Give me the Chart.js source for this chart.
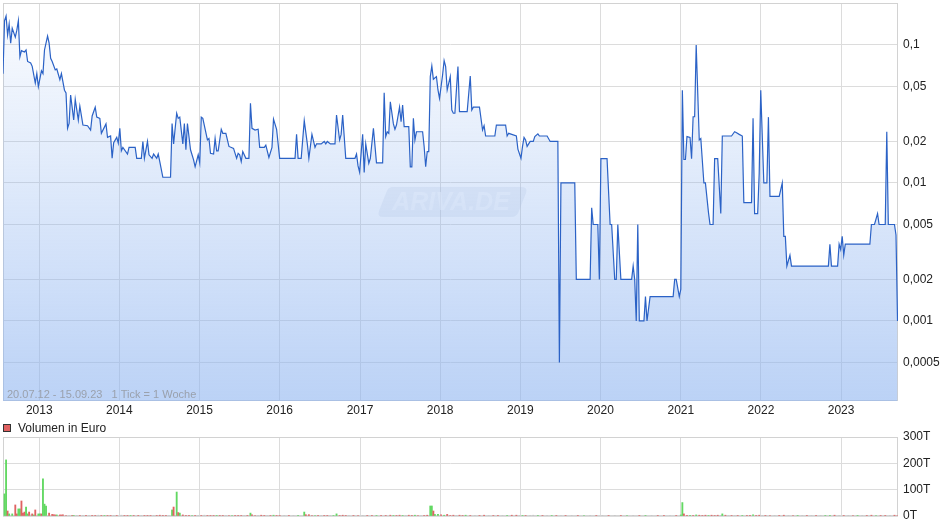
<!DOCTYPE html>
<html>
<head>
<meta charset="utf-8">
<script src="https://cdn.jsdelivr.net/npm/chart.js@4/dist/chart.umd.min.js"></script>
<style>
  html, body { margin: 0; padding: 0; background: #fff; }
  #wrap { position: relative; width: 940px; height: 526px; }
  #priceBox { position: absolute; left: 0; top: 0; width: 940px; height: 420px; }
  #volBox { position: absolute; left: 0; top: 420px; width: 940px; height: 106px; }
</style>
</head>
<body>
<div id="wrap">
  <div id="priceBox"><canvas id="chart-price"></canvas></div>
  <div id="volBox"><canvas id="chart-volume"></canvas></div>
</div>
<script>
// Weekly chart 20.07.12 - 15.09.23, x = week number since start
const startDate = '2012-07-20';
const lastWeek = 582.3;
const tickYears = [2013, 2014, 2015, 2016, 2017, 2018, 2019, 2020, 2021, 2022, 2023];
const priceTicks = [0.0005, 0.001, 0.002, 0.005, 0.01, 0.02, 0.05, 0.1];
const volumeTicks = [0, 100, 200, 300];

// price line (week, EUR)
const weeks = [
  0, 1, 2, 3, 4, 5, 6, 8, 9, 10, 11, 12, 14, 15, 16, 18, 19, 21, 22, 23,
  25, 26, 27, 29, 30, 31, 32, 34, 35, 37, 38, 40, 41, 42, 43, 44, 46, 47, 49, 50,
  52, 55, 57, 58, 60, 61, 63, 64, 67, 68, 70, 71, 72, 74, 75, 76, 77, 78, 81, 82,
  86, 87, 90, 91, 92, 94, 95, 97, 98, 100, 101, 102, 104, 109, 110, 111, 113, 114, 115, 117,
  118, 119, 120, 122, 124, 125, 127, 128, 129, 130, 133, 134, 135, 137, 138, 139, 140, 142, 143, 145,
  147, 150, 151, 152, 153, 154, 155, 156, 158, 160, 161, 162, 164, 166, 167, 170, 171, 173, 175, 176,
  178, 180, 190, 191, 192, 194, 196, 198, 199, 201, 203, 204, 207, 209, 210, 211, 213, 216, 217, 219,
  220, 221, 223, 229, 230, 231, 232, 234, 235, 236, 238, 239, 241, 243, 247, 248, 249, 250, 251, 252,
  254, 255, 256, 258, 259, 260, 261, 264, 265, 266, 267, 268, 269, 273, 274, 275, 276, 277, 278, 279,
  280, 282, 283, 284, 286, 287, 288, 289, 291, 292, 293, 294, 296, 297, 302, 304, 305, 306, 310, 312,
  313, 314, 320, 321, 327, 328, 329, 334, 335, 337, 338, 339, 340, 341, 343, 345, 346, 348, 349, 354,
  356, 361, 362, 363, 372, 373, 382, 383, 384, 387, 388, 389, 393, 395, 396, 398, 399, 400, 402, 409,
  410, 411, 412, 413, 414, 417, 418, 419, 421, 436, 437, 438, 440, 441, 442, 443, 444, 445, 447, 448,
  449, 450, 451, 453, 454, 456, 457, 459, 460, 462, 463, 465, 467, 468, 474, 476, 477, 479, 481, 482,
  487, 488, 489, 491, 492, 493, 495, 497, 498, 499, 505, 507, 508, 509, 510, 512, 513, 537, 538, 539,
  543, 544, 545, 546, 547, 548, 564, 565, 567, 569, 570, 574, 575, 576, 580, 581, 582
];
const prices = [
  0.062, 0.15, 0.162, 0.118, 0.142, 0.103, 0.132, 0.114, 0.128, 0.15, 0.082, 0.091, 0.089, 0.092, 0.076, 0.074, 0.07, 0.053, 0.062, 0.05,
  0.065, 0.062, 0.092, 0.116, 0.103, 0.08, 0.076, 0.066, 0.067, 0.056, 0.062, 0.047, 0.045, 0.0249, 0.027, 0.0434, 0.0286, 0.0404, 0.0286, 0.036,
  0.0263, 0.026, 0.0242, 0.0306, 0.0354, 0.03, 0.0294, 0.0229, 0.0268, 0.0214, 0.0219, 0.0151, 0.0196, 0.0214, 0.0194, 0.0249, 0.0171, 0.0181, 0.0162, 0.0181,
  0.0181, 0.0151, 0.0151, 0.02, 0.0151, 0.02, 0.016, 0.0151, 0.0162, 0.0151, 0.0162, 0.0143, 0.011, 0.011, 0.027, 0.0192, 0.032, 0.0294, 0.03, 0.0192,
  0.027, 0.0174, 0.027, 0.0174, 0.0147, 0.0131, 0.016, 0.014, 0.03, 0.0294, 0.0205, 0.021, 0.0164, 0.0162, 0.021, 0.0171, 0.0171, 0.0245, 0.0229, 0.0229,
  0.0184, 0.0178, 0.0164, 0.0151, 0.0164, 0.016, 0.0143, 0.0169, 0.0151, 0.0151, 0.0378, 0.0249, 0.0242, 0.0245, 0.0181, 0.0181, 0.0188, 0.0153, 0.0181, 0.029,
  0.0245, 0.0151, 0.0151, 0.0225, 0.0151, 0.0151, 0.0283, 0.0192, 0.0151, 0.0225, 0.0181, 0.0192, 0.0192, 0.02, 0.0192, 0.02, 0.0192, 0.0192, 0.0311, 0.0205,
  0.0225, 0.0311, 0.0151, 0.0151, 0.0162, 0.0133, 0.012, 0.0225, 0.0119, 0.0192, 0.0139, 0.0151, 0.0249, 0.014, 0.014, 0.045, 0.0217, 0.0235, 0.0229, 0.0388,
  0.0268, 0.0245, 0.0263, 0.0354, 0.0278, 0.0367, 0.0256, 0.0256, 0.0131, 0.0131, 0.0294, 0.0205, 0.0235, 0.0235, 0.0184, 0.0131, 0.0169, 0.0169, 0.059, 0.0705,
  0.0564, 0.059, 0.0472, 0.041, 0.0606, 0.077, 0.0697, 0.0472, 0.059, 0.0338, 0.032, 0.032, 0.0697, 0.0329, 0.0329, 0.0596, 0.0338, 0.0354, 0.0354, 0.0242,
  0.026, 0.0219, 0.0219, 0.0263, 0.0263, 0.0219, 0.0229, 0.0219, 0.0176, 0.0151, 0.0184, 0.0214, 0.0205, 0.0184, 0.02, 0.02, 0.0217, 0.0227, 0.0219, 0.0219,
  0.02, 0.02, 0.0005, 0.01, 0.01, 0.002, 0.002, 0.0066, 0.005, 0.005, 0.002, 0.015, 0.015, 0.005, 0.005, 0.002, 0.002, 0.005, 0.002, 0.002,
  0.0025, 0.002, 0.001, 0.005, 0.001, 0.001, 0.0015, 0.001, 0.0015, 0.0015, 0.002, 0.002, 0.0015, 0.0017, 0.047, 0.0148, 0.0148, 0.0217, 0.0214, 0.015,
  0.0302, 0.0302, 0.1, 0.0205, 0.021, 0.01, 0.01, 0.0061, 0.005, 0.005, 0.015, 0.015, 0.006, 0.0219, 0.0219, 0.0235, 0.0232, 0.0225, 0.0219, 0.0072,
  0.0072, 0.0294, 0.006, 0.006, 0.0118, 0.047, 0.01, 0.01, 0.03, 0.008, 0.008, 0.01, 0.0041, 0.0041, 0.0025, 0.003, 0.0025, 0.0025, 0.0036, 0.0025,
  0.0025, 0.0036, 0.0033, 0.0041, 0.003, 0.0036, 0.0036, 0.005, 0.005, 0.006, 0.005, 0.005, 0.0235, 0.005, 0.005, 0.0042, 0.001
];

// volume bars (week, thousand EUR, u = up / d = down / n = unchanged)
const volWeeks = [
  1, 2, 3, 4, 6, 8, 9, 10, 11, 12, 13, 14, 15, 16, 17, 18, 19, 20, 21, 23,
  24, 25, 26, 27, 28, 30, 32, 33, 34, 35, 37, 38, 39, 41, 43, 45, 46, 48, 50, 52,
  54, 56, 58, 60, 62, 64, 66, 68, 70, 72, 74, 77, 79, 81, 83, 85, 88, 90, 92, 94,
  96, 98, 100, 102, 104, 106, 108, 110, 111, 113, 114, 115, 117, 119, 121, 123, 125, 127, 129, 131,
  133, 135, 137, 139, 141, 143, 145, 147, 149, 151, 153, 155, 157, 159, 161, 162, 164, 166, 168, 170,
  172, 174, 176, 178, 180, 183, 186, 189, 192, 196, 197, 199, 201, 203, 205, 207, 209, 211, 213, 215,
  217, 219, 221, 223, 225, 228, 231, 234, 237, 240, 243, 246, 249, 252, 254, 256, 258, 260, 262, 264,
  266, 268, 270, 272, 274, 276, 278, 279, 280, 281, 283, 285, 287, 289, 291, 293, 295, 297, 299, 301,
  304, 307, 310, 313, 316, 319, 322, 325, 328, 331, 334, 336, 338, 340, 343, 345, 348, 351, 354, 357,
  360, 363, 366, 370, 374, 378, 382, 386, 390, 394, 398, 402, 406, 410, 414, 418, 422, 426, 430, 434,
  438, 441, 442, 443, 445, 447, 449, 451, 453, 455, 457, 459, 461, 463, 465, 467, 468, 470, 472, 474,
  476, 478, 481, 484, 486, 488, 490, 492, 494, 496, 499, 502, 505, 508, 511, 514, 517, 520, 523, 526,
  529, 532, 535, 538, 541, 544, 547, 550, 553, 556, 559, 562, 565, 568, 571, 574, 577, 580, 582
];
const volValues = [
  84, 213, 19, 8, 8, 42, 8, 27, 27, 57, 11, 15, 34, 8, 15, 4, 8, 4, 23, 8,
  8, 8, 141, 45, 38, 11, 6, 5, 4, 4, 4, 4, 4, 2, 2, 2, 2, 2, 2, 2,
  3, 2, 2, 2, 3, 2, 2, 2, 2, 2, 2, 3, 2, 2, 2, 2, 2, 2, 2, 2,
  2, 2, 2, 3, 2, 2, 2, 23, 34, 91, 13, 11, 4, 2, 3, 2, 2, 2, 2, 3,
  2, 2, 2, 2, 2, 2, 2, 2, 2, 2, 2, 2, 2, 2, 11, 4, 2, 2, 3, 2,
  2, 2, 3, 2, 2, 2, 2, 2, 2, 15, 5, 5, 2, 2, 2, 2, 2, 2, 2, 2,
  8, 2, 3, 2, 2, 2, 2, 2, 2, 2, 2, 2, 2, 3, 2, 2, 3, 2, 2, 3,
  2, 3, 2, 2, 2, 3, 38, 38, 19, 6, 6, 4, 3, 6, 2, 3, 2, 3, 2, 3,
  2, 2, 2, 3, 2, 2, 2, 2, 2, 3, 3, 2, 2, 2, 2, 3, 2, 2, 2, 2,
  2, 2, 2, 2, 2, 2, 2, 2, 2, 2, 2, 2, 2, 2, 2, 2, 2, 2, 2, 2,
  2, 4, 51, 8, 3, 3, 2, 4, 3, 2, 3, 2, 3, 2, 3, 2, 8, 3, 2, 2,
  2, 2, 2, 2, 3, 4, 2, 3, 2, 2, 2, 2, 2, 3, 2, 2, 2, 2, 2, 2,
  2, 2, 2, 2, 3, 2, 2, 2, 2, 2, 2, 2, 3, 2, 2, 2, 2, 3, 2
];
const volDir = [
  'u', 'u', 'd', 'u', 'u', 'd', 'd', 'u', 'u', 'd', 'd', 'd', 'u', 'u', 'd', 'n', 'd', 'u', 'd', 'u',
  'u', 'd', 'u', 'u', 'u', 'd', 'd', 'd', 'd', 'u', 'd', 'd', 'd', 'd', 'n', 'd', 'u', 'n', 'd', 'n',
  'd', 'n', 'd', 'd', 'n', 'd', 'u', 'd', 'd', 'n', 'd', 'n', 'd', 'd', 'u', 'd', 'd', 'n', 'd', 'd',
  'd', 'n', 'd', 'd', 'd', 'd', 'n', 'u', 'd', 'u', 'd', 'u', 'd', 'd', 'd', 'u', 'd', 'n', 'd', 'n',
  'd', 'd', 'd', 'u', 'd', 'd', 'n', 'd', 'u', 'd', 'd', 'd', 'n', 'd', 'u', 'd', 'd', 'n', 'd', 'd',
  'n', 'd', 'u', 'd', 'd', 'n', 'd', 'n', 'u', 'u', 'd', 'd', 'd', 'u', 'd', 'n', 'd', 'd', 'n', 'u',
  'u', 'd', 'd', 'd', 'n', 'd', 'd', 'n', 'd', 'd', 'u', 'd', 'd', 'd', 'u', 'd', 'd', 'u', 'n', 'd',
  'd', 'u', 'd', 'n', 'd', 'd', 'u', 'u', 'd', 'u', 'u', 'd', 'u', 'd', 'd', 'd', 'n', 'd', 'd', 'u',
  'd', 'n', 'd', 'd', 'n', 'd', 'd', 'n', 'u', 'd', 'd', 'n', 'u', 'd', 'n', 'n', 'u', 'd', 'n', 'u',
  'd', 'n', 'd', 'n', 'd', 'u', 'n', 'd', 'n', 'd', 'n', 'd', 'u', 'n', 'd', 'u', 'n', 'd', 'd', 'n',
  'd', 'u', 'u', 'd', 'd', 'u', 'd', 'u', 'd', 'd', 'd', 'u', 'd', 'd', 'd', 'n', 'u', 'd', 'n', 'd',
  'n', 'd', 'u', 'd', 'd', 'u', 'd', 'd', 'n', 'd', 'd', 'n', 'd', 'd', 'n', 'd', 'u', 'n', 'd', 'n',
  'd', 'n', 'u', 'u', 'd', 'n', 'd', 'n', 'd', 'u', 'n', 'd', 'd', 'u', 'd', 'd', 'n', 'd', 'd'
];

const FONT = { family: '"Liberation Sans", Arial, sans-serif', size: 12 };
const GRID = '#dcdcdc';
const WEEK_MS = 7 * 24 * 3600 * 1000;
const startMs = Date.parse(startDate + 'T00:00:00Z');
const yearWeeks = tickYears.map((y) => (Date.UTC(y, 0, 1) - startMs) / WEEK_MS);

// gray frame around the plot area
const framePlugin = {
  id: 'frame',
  beforeDatasetsDraw(chart) {
    const { ctx, chartArea: a } = chart;
    ctx.save();
    ctx.strokeStyle = '#d2d2d2';
    ctx.lineWidth = 1;
    ctx.strokeRect(a.left + 0.5, a.top + 0.5, a.width - 1, a.height - 1);
    ctx.restore();
  },
};

// watermark + date range note in the price panel
const pricePlugin = {
  id: 'priceNotes',
  beforeDatasetsDraw(chart) {
    const { ctx } = chart;
    ctx.save();
    ctx.fillStyle = 'rgba(180,195,220,0.22)';
    ctx.beginPath();
    ctx.moveTo(392, 187);
    ctx.lineTo(522, 187);
    ctx.quadraticCurveTo(528, 187, 526, 193);
    ctx.lineTo(519, 211);
    ctx.quadraticCurveTo(517, 217, 511, 217);
    ctx.lineTo(383, 217);
    ctx.quadraticCurveTo(377, 217, 379, 211);
    ctx.lineTo(386, 193);
    ctx.quadraticCurveTo(388, 187, 392, 187);
    ctx.fill();
    ctx.fillStyle = 'rgba(255,255,255,0.55)';
    ctx.font = 'italic bold 25px "Liberation Sans", Arial, sans-serif';
    ctx.textAlign = 'center';
    ctx.textBaseline = 'middle';
    ctx.fillText('ARIVA.DE', 451, 203);
    ctx.restore();
  },
  afterDatasetsDraw(chart) {
    const { ctx } = chart;
    ctx.save();
    ctx.fillStyle = '#9aa1ad';
    ctx.font = '11px "Liberation Sans", Arial, sans-serif';
    ctx.textBaseline = 'middle';
    ctx.fillText('20.07.12 - 15.09.23   1 Tick = 1 Woche', 7, 395);
    ctx.restore();
  },
};

// legend line above the volume panel
const volumeLegend = {
  id: 'volLegend',
  afterDraw(chart) {
    const { ctx } = chart;
    ctx.save();
    ctx.fillStyle = '#e06060';
    ctx.fillRect(4, 5, 6, 6);
    ctx.strokeStyle = '#333';
    ctx.lineWidth = 1;
    ctx.strokeRect(3.5, 4.5, 7, 7);
    ctx.fillStyle = '#222';
    ctx.font = '12px "Liberation Sans", Arial, sans-serif';
    ctx.textBaseline = 'middle';
    ctx.fillText('Volumen in Euro', 18, 8.5);
    ctx.restore();
  },
};

function fixedAxis(width) {
  return (s) => {
    s.width = width;
    s.paddingTop = 0;
    s.paddingBottom = 0;
  };
}

new Chart(document.getElementById('chart-price'), {
  type: 'line',
  data: {
    datasets: [
      {
        data: weeks.map((w, i) => ({ x: w, y: prices[i] })),
        borderColor: '#2b62c6',
        borderWidth: 1.2,
        pointRadius: 0,
        tension: 0,
        fill: 'start',
        backgroundColor: (context) => {
          const a = context.chart.chartArea;
          if (!a) return 'transparent';
          const g = context.chart.ctx.createLinearGradient(0, a.top, 0, a.bottom);
          g.addColorStop(0, 'rgba(142,180,240,0.03)');
          g.addColorStop(1, 'rgba(142,180,240,0.6)');
          return g;
        },
      },
    ],
  },
  options: {
    responsive: true,
    maintainAspectRatio: false,
    animation: false,
    layout: { padding: { top: 3, left: 3, right: 0, bottom: 0 } },
    plugins: { legend: { display: false }, tooltip: { enabled: false } },
    scales: {
      x: {
        type: 'linear',
        min: 0,
        max: lastWeek,
        afterBuildTicks: (s) => {
          s.ticks = yearWeeks.map((v) => ({ value: v }));
        },
        afterFit: (s) => {
          s.height = 19;
          s.paddingLeft = 0;
          s.paddingRight = 0;
        },
        grid: { color: GRID, drawTicks: false },
        border: { display: false },
        ticks: {
          padding: 2,
          color: '#222',
          font: FONT,
          maxRotation: 0,
          autoSkip: false,
          callback: (v, i) => String(tickYears[i]),
        },
      },
      y: {
        type: 'logarithmic',
        position: 'right',
        min: 0.000263,
        max: 0.2015,
        afterBuildTicks: (s) => {
          s.ticks = priceTicks.map((v) => ({ value: v }));
        },
        afterFit: fixedAxis(42),
        grid: { color: GRID, drawTicks: false },
        border: { display: false },
        ticks: {
          padding: 5,
          color: '#222',
          font: FONT,
          callback: (v) => String(v).replace('.', ','),
        },
      },
    },
  },
  plugins: [framePlugin, pricePlugin],
});

new Chart(document.getElementById('chart-volume'), {
  type: 'bar',
  data: {
    datasets: [
      {
        data: volWeeks.map((w, i) => ({ x: w, y: volValues[i] })),
        backgroundColor: volDir.map((d) => (d === 'u' ? '#62d862' : d === 'd' ? '#e06262' : '#c4c4c4')),
        barThickness: 1.2,
        categoryPercentage: 1,
        barPercentage: 1,
      },
    ],
  },
  options: {
    responsive: true,
    maintainAspectRatio: false,
    animation: false,
    layout: { padding: { top: 17, left: 3, right: 0, bottom: 10 } },
    plugins: { legend: { display: false }, tooltip: { enabled: false } },
    scales: {
      x: {
        type: 'linear',
        min: 0,
        max: lastWeek,
        offset: false,
        afterBuildTicks: (s) => {
          s.ticks = yearWeeks.map((v) => ({ value: v }));
        },
        afterFit: (s) => {
          s.height = 0;
          s.paddingLeft = 0;
          s.paddingRight = 0;
        },
        grid: { color: GRID, drawTicks: false, offset: false },
        border: { display: false },
        ticks: { display: false },
      },
      y: {
        type: 'linear',
        position: 'right',
        min: 0,
        max: 300,
        afterBuildTicks: (s) => {
          s.ticks = volumeTicks.map((v) => ({ value: v }));
        },
        afterFit: fixedAxis(42),
        grid: { color: GRID, drawTicks: false },
        border: { display: false },
        ticks: {
          padding: 5,
          color: '#222',
          font: FONT,
          callback: (v) => v + 'T',
        },
      },
    },
  },
  plugins: [framePlugin, volumeLegend],
});
</script>
</body>
</html>
